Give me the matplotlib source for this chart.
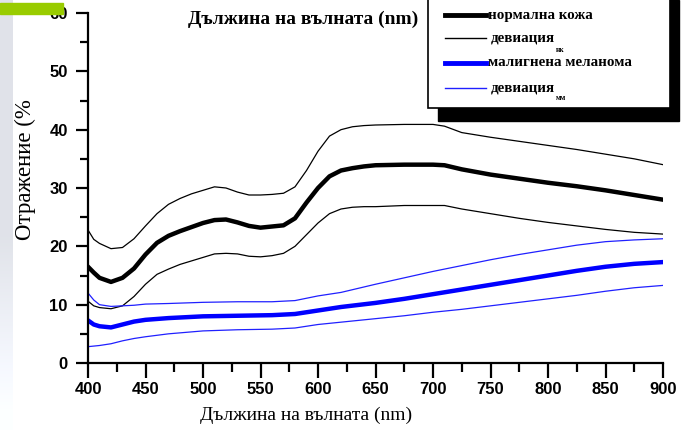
import numpy as np
import matplotlib
matplotlib.use("Agg")
import matplotlib.pyplot as plt
import matplotlib.patches as patches
from matplotlib.ticker import MultipleLocator

# normal skin: mean and +/- deviation
nk_x = [400, 405, 410, 420, 430, 440, 450, 460, 470, 480, 490, 500, 510, 520, 530,
        540, 550, 560, 570, 580, 590, 600, 610, 620, 630, 640, 650, 675, 700, 710,
        725, 750, 775, 800, 825, 850, 875, 900]
nk_mean = [16.5, 15.5, 14.6, 13.9, 14.6, 16.2, 18.6, 20.6, 21.8, 22.6, 23.3, 24.0, 24.5,
           24.6, 24.1, 23.5, 23.2, 23.4, 23.6, 24.8, 27.5, 30.0, 32.0, 33.0, 33.4, 33.7,
           33.9, 34.0, 34.0, 33.9, 33.2, 32.3, 31.6, 30.9, 30.3, 29.6, 28.8, 28.0]
nk_hi = [22.8, 21.2, 20.5, 19.6, 19.8, 21.3, 23.5, 25.6, 27.2, 28.2, 29.0, 29.6, 30.2,
         30.0, 29.3, 28.8, 28.8, 28.9, 29.1, 30.2, 33.0, 36.3, 38.9, 40.0, 40.5, 40.7,
         40.8, 40.9, 40.9, 40.6, 39.5, 38.7, 38.0, 37.3, 36.6, 35.8, 35.0, 34.0]
nk_lo = [10.6, 9.8, 9.5, 9.3, 9.8, 11.4, 13.5, 15.2, 16.1, 16.9, 17.5, 18.1, 18.7,
         18.8, 18.7, 18.3, 18.2, 18.4, 18.8, 20.0, 22.0, 24.0, 25.6, 26.4, 26.7, 26.8,
         26.8, 27.0, 27.0, 27.0, 26.4, 25.6, 24.8, 24.1, 23.5, 22.9, 22.4, 22.1]

# malignant melanoma
mm_x = [400, 405, 410, 420, 430, 440, 450, 470, 500, 530, 560, 580, 600, 620, 650,
        675, 700, 725, 750, 775, 800, 825, 850, 875, 900]
mm_mean = [7.3, 6.6, 6.3, 6.1, 6.6, 7.1, 7.4, 7.7, 8.0, 8.1, 8.2, 8.4, 9.0, 9.6, 10.3,
           11.0, 11.8, 12.6, 13.4, 14.2, 15.0, 15.8, 16.5, 17.0, 17.3]
mm_hi = [12.0, 10.8, 10.0, 9.7, 9.8, 9.9, 10.1, 10.2, 10.4, 10.5, 10.5, 10.7, 11.5, 12.1,
         13.5, 14.6, 15.7, 16.7, 17.7, 18.6, 19.4, 20.2, 20.8, 21.1, 21.3]
mm_lo = [2.8, 2.9, 3.0, 3.3, 3.8, 4.2, 4.5, 5.0, 5.5, 5.7, 5.8, 6.0, 6.6, 7.0, 7.6,
         8.1, 8.7, 9.2, 9.8, 10.4, 11.0, 11.6, 12.3, 12.9, 13.3]

labels = ["нормална кожа", "девиация", "малигнена меланома", "девиация"]
subs = ["нк", "мм"]
x_title = "Дължина на вълната (nm)"
y_title = "Отражение (%"

fig = plt.figure(figsize=(6.86, 4.30), dpi=100)

# left light strip of the slide
strip = fig.add_axes([0, 0, 13 / 686, 1])
t = np.linspace(0, 1, 256)
shade = np.clip(0.89 + 0.11 * np.clip((t - 0.55) / 0.4, 0, 1), 0, 1)
img = np.stack([shade - 0.01, shade, shade + 0.025], axis=-1).clip(0, 1)[:, None, :]
strip.imshow(img, aspect="auto", origin="upper")
strip.axis("off")

ax = fig.add_axes([88 / 686, 1 - 363 / 430, 575 / 686, 350 / 430])
ax.plot(nk_x, nk_mean, color="black", lw=3.2, solid_joinstyle="round")
ax.plot(nk_x, nk_hi, color="black", lw=0.9)
ax.plot(nk_x, nk_lo, color="black", lw=0.9)
ax.plot(mm_x, mm_mean, color="#0000ff", lw=3.2, solid_joinstyle="round")
ax.plot(mm_x, mm_hi, color="#2020ff", lw=0.9)
ax.plot(mm_x, mm_lo, color="#2020ff", lw=0.9)

ax.set_xlim(400, 900)
ax.set_ylim(0, 60)
ax.set_xticks(np.arange(400, 901, 50))
ax.set_yticks(np.arange(0, 61, 10))
ax.xaxis.set_minor_locator(MultipleLocator(25))
ax.yaxis.set_minor_locator(MultipleLocator(5))
for s in ["top", "right"]:
    ax.spines[s].set_visible(False)
for s in ["left", "bottom"]:
    ax.spines[s].set_linewidth(1.6)
ax.tick_params(axis="x", which="major", length=10.5, width=1.6, pad=3)
ax.tick_params(axis="x", which="minor", length=6.5, width=1.6)
ax.tick_params(axis="y", which="major", length=8.5, width=1.6, pad=6)
ax.tick_params(axis="y", which="minor", length=5.5, width=1.6)
for lab in ax.get_xticklabels() + ax.get_yticklabels():
    lab.set_fontfamily("Liberation Sans")
    lab.set_fontweight("bold")
    lab.set_fontsize(12)

serif = "Liberation Serif"
fig.text(306 / 686, 1 - 415 / 430, x_title, family=serif, fontsize=14,
         ha="center", va="center")
fig.text(303 / 686, 1 - 19 / 430, x_title, family=serif, fontsize=14,
         fontweight="bold", ha="center", va="center")
fig.text(25 / 686, 1 - 170 / 430, y_title, family=serif, fontsize=16.5,
         rotation=90, ha="center", va="center")

# legend box with a hard black shadow
W, H = 686, 430
fig.patches.append(patches.Rectangle((438 / W, 1 - 121 / H), 241 / W, 121 / H,
                                     transform=fig.transFigure, color="black", zorder=3))
fig.patches.append(patches.Rectangle((428 / W, 1 - 108 / H), 242 / W, 112 / H,
                                     transform=fig.transFigure, facecolor="white",
                                     edgecolor="black", lw=1.2, zorder=4))
rows = [15, 38, 63, 88]
styles = [("black", 3.5), ("black", 1.0), ("#0000ff", 3.5), ("#2020ff", 1.0)]
for i, (yy, (c, w)) in enumerate(zip(rows, styles)):
    fig.add_artist(plt.Line2D([445 / W, 486 / W], [1 - yy / H] * 2, color=c, lw=w,
                              transform=fig.transFigure, zorder=5))
    tx = 488 if w > 2 else 491
    fig.text(tx / W, 1 - yy / H, labels[i], family=serif, fontsize=10.8,
             fontweight="bold", ha="left", va="center", zorder=6)
for yy, s in zip([50, 98], subs):
    fig.text(556 / W, 1 - yy / H, s, family=serif, fontsize=5.5, fontweight="bold",
             ha="left", va="center", zorder=6)

# green accent bar over the top-left
fig.patches.append(patches.Rectangle((0, 1 - 14 / H), 63 / W, 11 / H,
                                     transform=fig.transFigure, color="#99cc00", zorder=7))

fig.savefig("out.png", dpi=100)
